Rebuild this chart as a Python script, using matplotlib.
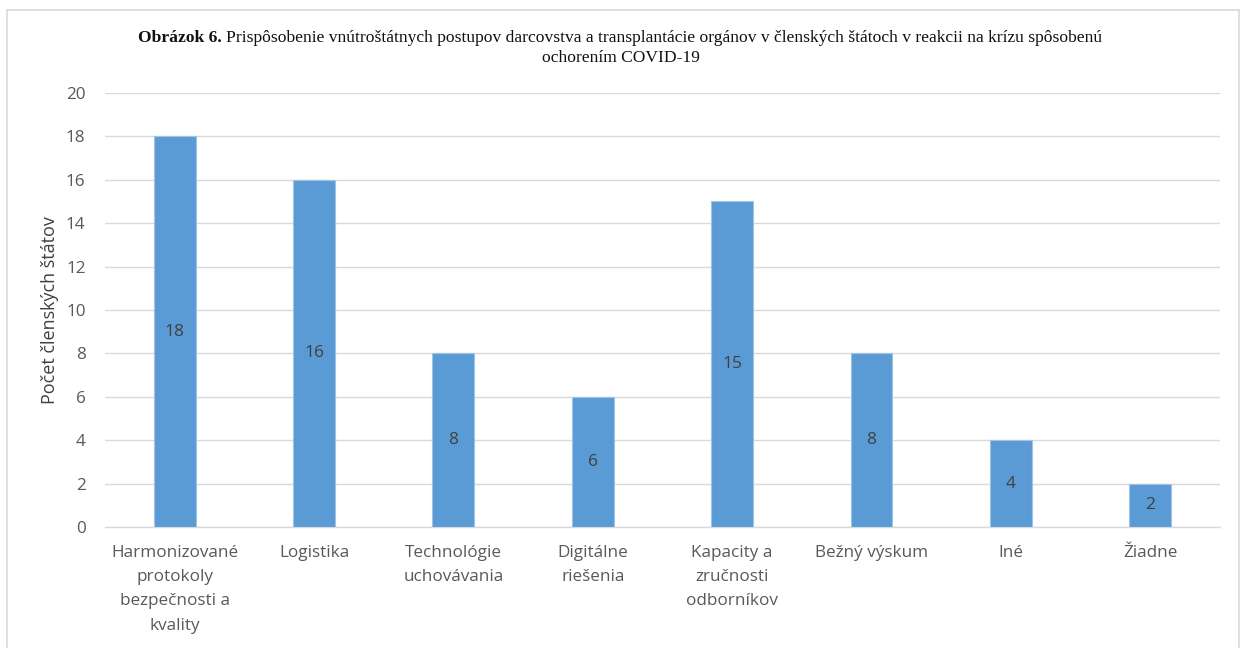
import matplotlib.pyplot as plt
from matplotlib.patches import Rectangle

# data
categories = ['Harmonizované\nprotokoly\nbezpečnosti a\nkvality', 'Logistika',
              'Technológie\nuchovávania', 'Digitálne\nriešenia',
              'Kapacity a\nzručnosti\nodborníkov', 'Bežný výskum', 'Iné', 'Žiadne']
counts = [18, 16, 8, 6, 15, 8, 4, 2]
y_ticks = list(range(0, 21, 2))

plt.rcParams['font.family'] = ['Open Sans', 'DejaVu Sans']

fig = plt.figure(figsize=(12.41, 6.48), dpi=100)
ax = fig.add_axes([0.0846, 0.1867, 0.8984, 0.6698])

bar_color = '#5B9BD5'
text_color = '#595959'
grid_color = '#D9D9D9'

x = range(len(categories))
bars = ax.bar(x, counts, width=0.3, color=bar_color, edgecolor='#9DC3E6',
              linewidth=0.8, zorder=3)

for xi, v in zip(x, counts):
    ax.text(xi, v / 2, str(v), ha='center', va='center', fontsize=12.5,
            color='#404040', zorder=4)

ax.set_xlim(-0.5, len(categories) - 0.5)
ax.set_ylim(0, 20)
ax.set_yticks(y_ticks)
ax.set_xticks(list(x))
ax.set_xticklabels(categories, fontsize=12.3, color=text_color, linespacing=1.68,
                   va='top')
ax.tick_params(axis='y', labelsize=12.3, labelcolor=text_color, length=0, pad=14)
ax.tick_params(axis='x', length=0, pad=13)

for s in ['top', 'right', 'left']:
    ax.spines[s].set_visible(False)
ax.spines['bottom'].set_color(grid_color)
ax.spines['bottom'].set_linewidth(1.0)

ax.grid(True, axis='y', color=grid_color, linewidth=1.0)
ax.set_axisbelow(True)

ax.set_ylabel('Počet členských štátov', fontsize=13, color='#404040', labelpad=5)

# title in serif, first words bold
title_font = ['Liberation Serif', 'DejaVu Serif']
title_size = 12.6
y1, y2 = 0.941, 0.910
fig.text(0.5, y1, 'Obrázok 6. ', family=title_font, fontsize=title_size,
         fontweight='bold', ha='right', va='center', color='#111111')
fig.text(0.5, y1, 'Prispôsobenie vnútroštátnych postupov darcovstva a transplantácie orgánov v členských štátoch v reakcii na krízu spôsobenú',
         family=title_font, fontsize=title_size, ha='left', va='center', color='#111111')
fig.canvas.draw()
# shift the first title line so the whole line is centred
r = fig.canvas.get_renderer()
texts = fig.texts[-2:]
w_total = sum(t.get_window_extent(r).width for t in texts) / fig.bbox.width
left = 0.5 - w_total / 2
w_bold = texts[0].get_window_extent(r).width / fig.bbox.width
texts[0].set_position((left + w_bold, y1))
texts[1].set_position((left + w_bold, y1))
fig.text(0.5, y2, 'ochorením COVID-19', family=title_font, fontsize=title_size,
         ha='center', va='center', color='#111111')

# light frame around the chart
fig.patches.append(Rectangle((0.006, -0.01), 0.992, 0.995, transform=fig.transFigure,
                             fill=False, edgecolor='#D9D9D9', linewidth=1.2))

fig.savefig('out.png', dpi=100, facecolor='white')
